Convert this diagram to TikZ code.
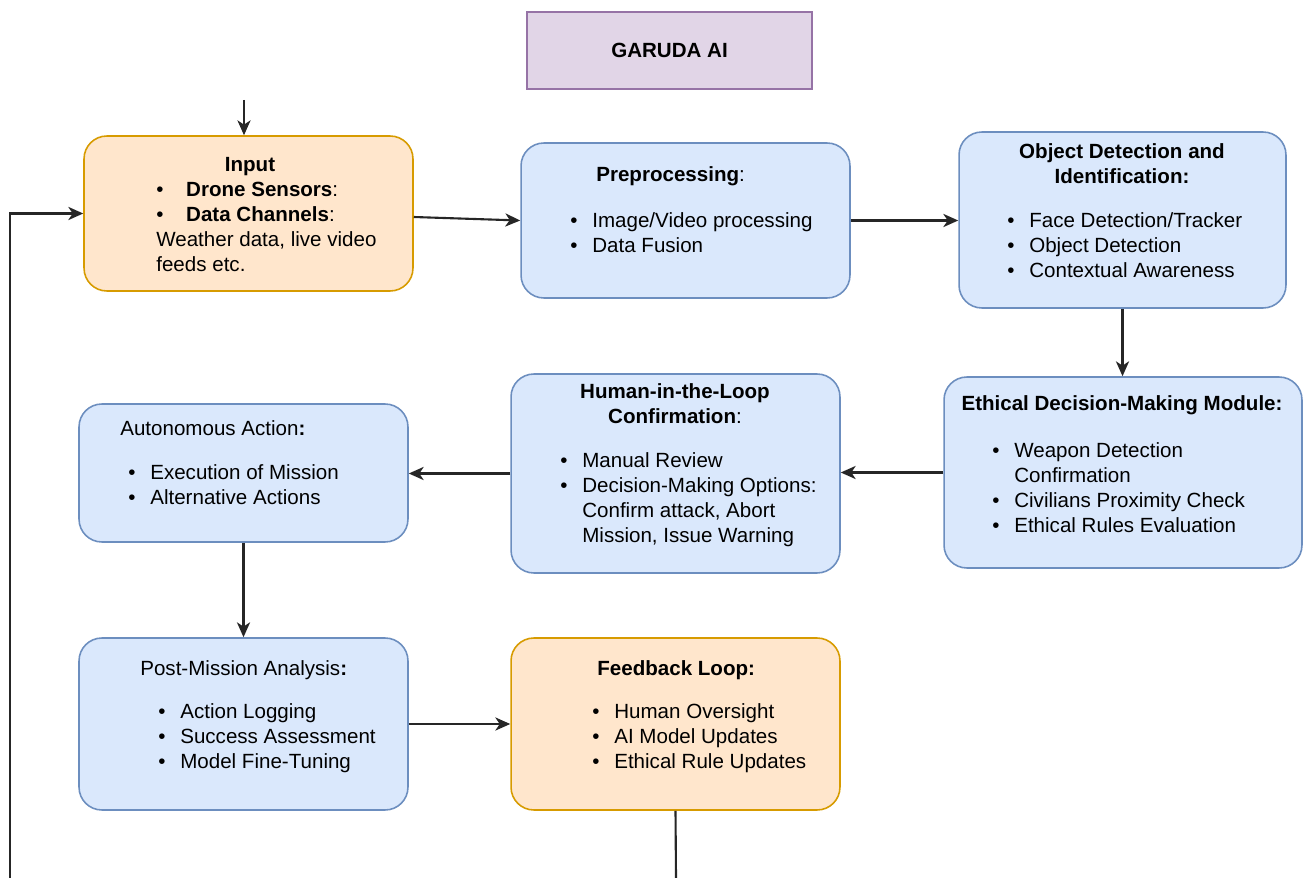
\documentclass[tikz,border=0pt]{standalone}
\usepackage{fontspec}
\setmainfont{Liberation Sans}
\usepackage{tikz}
\usetikzlibrary{arrows.meta}
\definecolor{bluefill}{HTML}{DAE8FC}
\definecolor{blueline}{HTML}{6C8EBF}
\definecolor{orangefill}{HTML}{FFE6CC}
\definecolor{orangeline}{HTML}{D79B00}
\definecolor{purplefill}{HTML}{E1D5E7}
\definecolor{purpleline}{HTML}{9673A6}
\newcommand{\bul}[1][12.5pt]{\makebox[#1][l]{\textbullet}}
\newcommand{\bulgap}{\hspace*{12.5pt}}
\tikzset{
	box/.style={rectangle,rounded corners=13pt,line width=0.9pt,inner sep=0pt},
	bluebox/.style={box,draw=blueline,fill=bluefill},
	orangebox/.style={box,draw=orangeline,fill=orangefill},
	purplebox/.style={rectangle,draw=purpleline,fill=purplefill,line width=0.9pt,inner sep=0pt},
	txt/.style={inner sep=0pt,font=\fontsize{11.7}{14.2}\selectfont,align=left},
	ttl/.style={txt,align=center},
	>={Stealth[length=8.5pt,width=7.5pt,inset=2.5pt]},
	flow/.style={->,line width=1.2pt,color=black!85}
}
\begin{document}
\begin{tikzpicture}[x=0.02cm,y=-0.02cm]
	\useasboundingbox (0,0) rectangle (1304,878);
	% boxes
	\node[purplebox,minimum width=5.7cm,minimum height=1.54cm] (garuda) at (669.5,50.5) {};
	\node[orangebox,minimum width=6.58cm,minimum height=3.1cm] (input) at (248.5,213.5) {};
	\node[bluebox,minimum width=6.58cm,minimum height=3.1cm] (pre) at (685.5,220.5) {};
	\node[bluebox,minimum width=6.54cm,minimum height=3.52cm] (obj) at (1122.5,220) {};
	\node[bluebox,minimum width=7.16cm,minimum height=3.82cm] (eth) at (1123,472.5) {};
	\node[bluebox,minimum width=6.58cm,minimum height=3.98cm] (hitl) at (675.5,473.5) {};
	\node[bluebox,minimum width=6.58cm,minimum height=2.76cm] (auto) at (243.5,473) {};
	\node[bluebox,minimum width=6.58cm,minimum height=3.44cm] (post) at (243.5,724) {};
	\node[orangebox,minimum width=6.58cm,minimum height=3.44cm] (feed) at (675.5,724) {};
	% texts
	\node[ttl] (garudatxt) at (garuda) {\textbf{GARUDA AI}};
	\node[ttl,anchor=north] (inputttl) at (250,157) {\textbf{Input}};
	\node[txt,anchor=north west] (inputtxt) at (156,182) {\bul[17pt]\textbf{Drone Sensors}:\\\bul[17pt]\textbf{Data Channels}:\\Weather data, live video\\feeds etc.};
	\node[txt,anchor=north west] (prettl) at (596,166) {\textbf{Preprocessing}:};
	\node[txt,anchor=north west] (pretxt) at (570,212) {\bul Image/Video processing\\\bul Data Fusion};
	\node[ttl,anchor=north] (objttl) at (1122,143) {\textbf{Object Detection and}\\\textbf{Identification:}};
	\node[txt,anchor=north west] (objtxt) at (1007,212) {\bul Face Detection/Tracker\\\bul Object Detection\\\bul Contextual Awareness};
	\node[ttl,anchor=north] (ethttl) at (1122,395) {\textbf{Ethical Decision-Making Module:}};
	\node[txt,anchor=north west] (ethtxt) at (992,442) {\bul Weapon Detection\\\bulgap Confirmation\\\bul Civilians Proximity Check\\\bul Ethical Rules Evaluation};
	\node[ttl,anchor=north] (hitlttl) at (675,383) {\textbf{Human-in-the-Loop}\\\textbf{Confirmation}:};
	\node[txt,anchor=north west] (hitltxt) at (560,452) {\bul Manual Review\\\bul Decision-Making Options:\\\bulgap Confirm attack, Abort\\\bulgap Mission, Issue Warning};
	\node[txt,anchor=north west] (autottl) at (120,420) {Autonomous Action\textbf{:}};
	\node[txt,anchor=north west] (autotxt) at (128,464) {\bul Execution of Mission\\\bul Alternative Actions};
	\node[txt,anchor=north west] (postttl) at (140,660) {Post-Mission Analysis\textbf{:}};
	\node[txt,anchor=north west] (posttxt) at (158,703) {\bul Action Logging\\\bul Success Assessment\\\bul Model Fine-Tuning};
	\node[txt,anchor=north west] (feedttl) at (597,660) {\textbf{Feedback Loop:}};
	\node[txt,anchor=north west] (feedtxt) at (592,703) {\bul Human Oversight\\\bul AI Model Updates\\\bul Ethical Rule Updates};
	% connectors
	\coordinate (topin) at (244,100);
	\coordinate (loopin) at (10,878);
	\coordinate (feedout) at (676,878);
	\draw[flow] (topin) -- (topin |- input.north);
	\draw[flow] (loopin) |- (input.west);
	\draw[flow] ([yshift=-0.07cm]input.east) -- (pre.west);
	\draw[flow] (pre.east) -- (pre.east -| obj.west);
	\draw[flow] (obj.south) -- (obj.south |- eth.north);
	\draw[flow] (eth.west) -- (eth.west -| hitl.east);
	\draw[flow] (hitl.west) -- (hitl.west -| auto.east);
	\draw[flow] (auto.south) -- (post.north);
	\draw[flow] (post.east) -- (feed.west);
	\draw[line width=1.2pt,color=black!85] (feed.south) -- (feedout);
\end{tikzpicture}
\end{document}
